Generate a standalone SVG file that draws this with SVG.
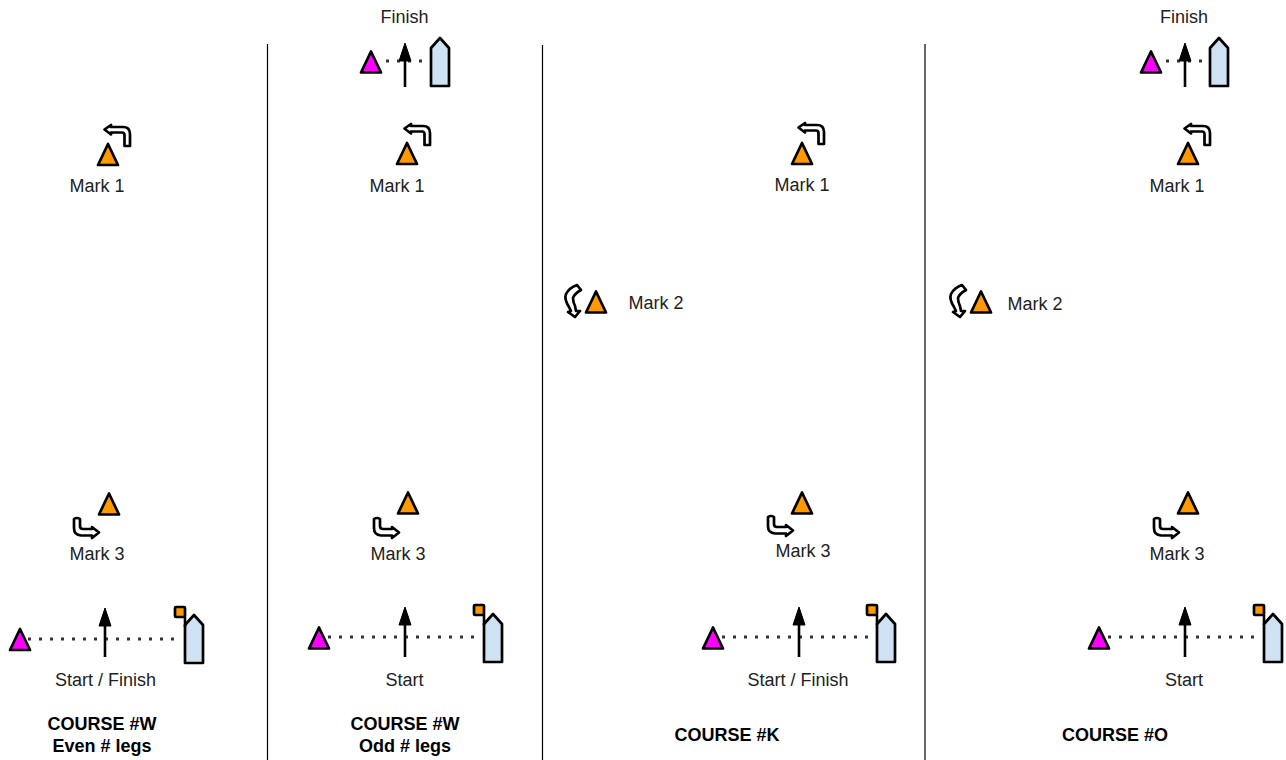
<svg xmlns="http://www.w3.org/2000/svg" width="1286" height="760" viewBox="0 0 1286 760">
<style>
text{font-family:"Liberation Sans",Arial,sans-serif;font-size:18px;fill:#222;text-anchor:middle}
.b{font-weight:bold;fill:#000}
.s{stroke:#000;stroke-width:2.7;stroke-linejoin:round}
.o{fill:#ff9900}.m{fill:#ff00ff}.t{fill:#fff}.h{fill:#cfe2f3}
.d{stroke:#333;stroke-width:3;stroke-dasharray:3 8;fill:none}
.v{stroke:#000;stroke-width:1.2;fill:none}
.a{stroke:#000;stroke-width:2.6;fill:none}
</style>
<defs>
<path id="tri" class="s" d="M0,-10.500L10,10.500L-10,10.500Z"/>
<path id="t1" class="s t" d="M404.500,128.500L411,124L411,126L423,126Q430,126 430,133L430,145L424.500,145L424.500,134Q424.500,131.500 422,131.500L411,131.500L411,133.500Z"/>
<path id="t3" class="s t" d="M74,519Q77,517 80,519L80,526Q80,529 83,529L92,529L92,527L99,532.500L92,538L92,535.500L81,535.500Q74,535 74,528Z"/>
<path id="t2" class="s t" d="M577,285L581,290Q574,294 573,298Q573,302 575,306L576,311L580,311L575,317L568,312L571,311L569,307Q564,299 566,294Q569,288 577,285Z"/>
<path id="boat" class="s h" d="M0,10L9,0L18,10L18,48L0,48Z"/>
<path id="head" d="M0,0L6,18L-6,18Z" fill="#000" stroke="#000" stroke-linejoin="round"/>
<g id="flag"><path class="a" d="M10,10V20"/><rect class="s o" x="0" y="0" width="10" height="10" rx="1"/></g>
</defs>

<g id="connectors">
<path class="v" d="M267.500,44V760M542.500,45V760M925,44V760"/>
<path class="d" d="M28,639H181M328,637H480M722,637H874M1108,637H1260M386,61H428M1166,61H1208"/>
<path class="a" d="M105,622V657M405,622V657M799,622V657M1185,622V657M405,58V87M1185,58V87"/>
</g>

<g id="course-w-even">
<use href="#t1" x="-300" y="1"/>
<use href="#tri" class="o" x="108" y="154.500"/>
<text x="97" y="192">Mark 1</text>
<use href="#tri" class="o" x="109" y="504"/>
<use href="#t3"/>
<text x="97" y="560">Mark 3</text>
<use href="#tri" class="m" x="20" y="639.500"/>
<use href="#head" x="105" y="608"/>
<use href="#boat" x="185" y="615"/>
<use href="#flag" x="175" y="607"/>
<text x="105.500" y="686">Start / Finish</text>
<text class="b" x="102" y="730">COURSE #W</text>
<text class="b" x="102" y="752">Even # legs</text>
</g>

<g id="course-w-odd">
<text x="404.500" y="23">Finish</text>
<use href="#tri" class="m" x="371" y="62"/>
<use href="#head" x="405" y="43"/>
<use href="#boat" x="431" y="38"/>
<use href="#t1"/>
<use href="#tri" class="o" x="407" y="153.500"/>
<text x="397" y="192">Mark 1</text>
<use href="#tri" class="o" x="408" y="503"/>
<use href="#t3" x="300"/>
<text x="398" y="560">Mark 3</text>
<use href="#tri" class="m" x="319" y="638"/>
<use href="#head" x="405" y="607"/>
<use href="#boat" x="484" y="614"/>
<use href="#flag" x="474" y="605"/>
<text x="404.500" y="686">Start</text>
<text class="b" x="405" y="730">COURSE #W</text>
<text class="b" x="405" y="752">Odd # legs</text>
</g>

<g id="course-k">
<use href="#t1" x="394" y="-1"/>
<use href="#tri" class="o" x="802" y="153.500"/>
<text x="802" y="191">Mark 1</text>
<use href="#t2"/>
<use href="#tri" class="o" x="596" y="302"/>
<text x="656" y="309">Mark 2</text>
<use href="#tri" class="o" x="802" y="503"/>
<use href="#t3" x="694" y="-2"/>
<text x="803" y="557">Mark 3</text>
<use href="#tri" class="m" x="713" y="638"/>
<use href="#head" x="799" y="607"/>
<use href="#boat" x="877" y="614"/>
<use href="#flag" x="867" y="605"/>
<text x="798" y="686">Start / Finish</text>
<text class="b" x="727" y="741">COURSE #K</text>
</g>

<g id="course-o">
<text x="1184" y="23">Finish</text>
<use href="#tri" class="m" x="1151" y="62"/>
<use href="#head" x="1185" y="43"/>
<use href="#boat" x="1210" y="38"/>
<use href="#t1" x="780"/>
<use href="#tri" class="o" x="1188" y="153.500"/>
<text x="1177" y="192">Mark 1</text>
<use href="#t2" x="385"/>
<use href="#tri" class="o" x="981" y="302"/>
<text x="1035" y="310">Mark 2</text>
<use href="#tri" class="o" x="1188" y="503"/>
<use href="#t3" x="1080"/>
<text x="1177" y="560">Mark 3</text>
<use href="#tri" class="m" x="1099" y="638"/>
<use href="#head" x="1185" y="607"/>
<use href="#boat" x="1264" y="614"/>
<use href="#flag" x="1254" y="605"/>
<text x="1184" y="686">Start</text>
<text class="b" x="1115" y="741">COURSE #O</text>
</g>
</svg>
